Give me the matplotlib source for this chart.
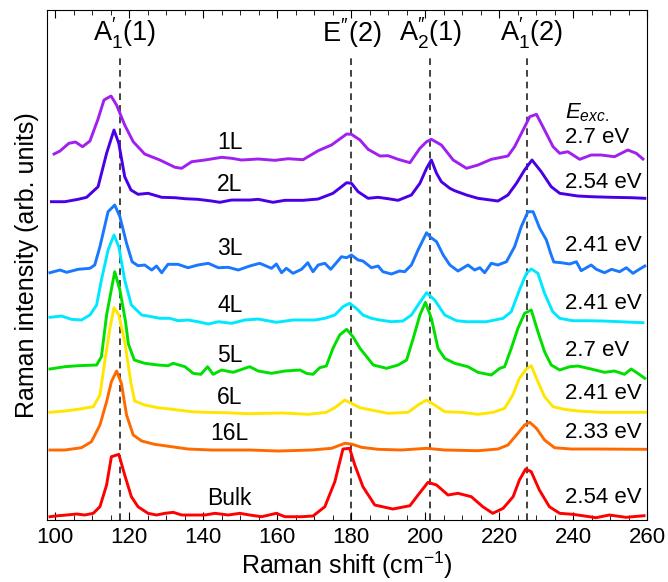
import matplotlib
matplotlib.use('Agg')
import matplotlib.pyplot as plt
from matplotlib.ticker import MultipleLocator

plt.rcParams['font.family'] = ['Liberation Sans', 'DejaVu Sans']
plt.rcParams['mathtext.fontset'] = 'custom'
plt.rcParams['mathtext.rm'] = 'Liberation Sans'
plt.rcParams['mathtext.it'] = 'Liberation Sans:italic'

# Raman spectra (intensity above each curve's baseline, arb. units)
shift_1L = [99.7, 101.3, 103.7, 105.5, 107.4, 109.4, 111.5, 113.2, 115.1, 116.6, 118.8, 121.1, 124.2,
            128.3, 132.4, 134.2, 136.9, 140.5, 145, 147.7, 150.4, 154.9, 159.4, 163, 167, 171.1, 174.7,
            178.8, 180.1, 182.4, 184.6, 187.8, 190, 192.7, 195.9, 198.6, 200.4, 201.7, 204.4, 207.6,
            211.2, 214.3, 217.9, 222.4, 224.2, 226.5, 228.3, 230.1, 232.3, 234.6, 236.4, 238.6, 241.8,
            244.9, 247.6, 251.2, 254.8, 257.1, 258.9]
int_1L = [6, 9, 16.7, 18, 13.3, 19, 40, 60, 64, 55, 35, 18.3, 6,
          0, -7.3, -8.3, -1.7, 0, 2.7, 1.7, 0, 1, -0.3, 1.3, 0.3, 9.3, 15,
          26, 25.7, 20, 10.7, 4, 4.3, 0.7, -2.7, 11.7, 18.3, 20.7, 15, 0,
          -8.3, -5, 0.7, 4, 13.3, 30, 43.3, 45.7, 30, 13.3, 6.7, 8.3, 0.7,
          5, 5, 3.3, 10, 6.7, 1]

shift_2L = [99, 102.6, 106.2, 108.5, 111.6, 113.9, 115.9, 117.2, 118.8, 120.5, 122.4, 125.1, 128.8,
            132.4, 135.1, 138.6, 142.3, 144.5, 147.7, 152.6, 154.9, 158.9, 162.1, 167, 171.1, 175.1,
            178.8, 180.1, 181.9, 184.6, 187.3, 190, 192.7, 196.3, 198.6, 200.4, 201.7, 203.1, 204.4,
            206.7, 208, 211.2, 214.3, 219.7, 222.4, 224.7, 226.9, 228.9, 231.4, 234.1, 236.4, 241.3,
            244.9, 250.4, 255.8, 259.4]
int_2L = [-1.7, -1.7, 0.7, 2.7, 13.3, 46.7, 70, 56.7, 23.3, 10, 5.7, 6.7, 2.7,
          2.3, 1.3, 0.7, -1, -2.3, 0, 0, 0.7, -2.3, -0.3, -0.3, 1, 6.7,
          17.3, 16.7, 8.3, 1.7, 2.7, 1.3, -0.3, 5, 16.7, 31.7, 40, 26.7, 18.3,
          11.7, 9.3, 5, 1.7, -1, 5, 16.7, 30, 40, 28.3, 13.3, 6.7, 4,
          3.3, 2.7, 2.3, 1.7]

shift_3L = [98.6, 101.3, 103.1, 106.2, 109.4, 110.7, 112.1, 114.3, 116.1, 117.5, 119.3, 120.8, 122.4,
            124.2, 126.1, 127.4, 128.8, 130.5, 133.2, 135.9, 138.6, 141.4, 144.1, 146.8, 149.5, 152.6,
            155.3, 158.5, 159.8, 161.2, 162.5, 164.3, 166.6, 168.3, 169.7, 171.1, 172.9, 174.5, 177.4,
            178.8, 180.1, 181.9, 183.2, 185.5, 187.3, 188.6, 190.9, 193.1, 194.5, 196.3, 198.1, 200.4,
            201.3, 203.1, 204.9, 206.7, 208.9, 211.6, 213.4, 214.8, 216.1, 217.9, 219.7, 222, 224.2,
            226, 227.8, 229.2, 231, 232.8, 234, 234.8, 236.8, 239.1, 240.9, 242.2, 244.9, 246.3, 248.5,
            250.4, 252.6, 254.4, 256.2, 257.6, 259.4]
int_3L = [-5.7, -3, -5.3, -2.3, -1.3, 2, 20.3, 55.3, 62, 50.3, 23.7, 5.3, 1.3,
          2, -3, 1, -5.7, 2.7, 2.7, -0.7, 2, 3.7, -0.7, -0.3, -3, 1,
          3.7, -1.3, 3, -5.7, -1.3, -6.3, -2.3, 4.3, -4.7, 2, 3.7, -2.3, 10.3,
          9.3, 12, 7, 6, -0.7, 1, -4.7, -7, -4, -4.7, 2, 17, 34.3,
          30.3, 25.3, 12, 2, -4, 2, -3, -0.7, -5.7, 3.7, 2, 5.3, 20.3,
          40.3, 55.3, 55.3, 38.7, 27, 13, 5, 4.3, 3, 5.3, -3.7, 2, -2.3, -5.7,
          -2.3, -4.7, -0.7, -6.3, -3, 1]

shift_4L = [98.6, 101.7, 104.4, 107.1, 109.4, 111.2, 112.5, 114.3, 115.9, 117.2, 118.8, 120.6, 123.4,
            126.1, 128.3, 131, 133.2, 135.9, 138.6, 141.4, 144.1, 147.7, 151.3, 154.9, 159.8, 164.3,
            170.2, 172.9, 175.6, 177.8, 179.6, 181.4, 183.2, 185.5, 187.7, 190.9, 194, 196.3, 198.1,
            200.4, 202.6, 205.3, 208.5, 211.2, 216.6, 221.1, 223.3, 225.5, 227.4, 228.7, 230.5, 232.3,
            234.5, 236.4, 239.9, 243.6, 248.1, 252.6, 258.9]
int_4L = [2.7, 4, 0.7, 0, 5, 15, 40, 70, 85, 73.3, 40, 15, 5,
          3.3, 1.7, 1.7, -0.7, 0, -1.7, -4, -1.7, -3.3, 0, 1, -2.3, 0,
          0, 1.7, 5, 13.3, 16.7, 11.7, 5, 1.7, 0, -1.7, -1, 5, 15,
          27.3, 20, 5, -0.7, -1.7, -1.7, 1.7, 8.3, 30, 46.7, 51, 46.7, 26.7,
          8.3, 1.7, -0.7, -0.7, -1, -1.7, -2.7]

shift_5L = [98.6, 102.6, 106.2, 111.2, 112.5, 113.9, 116.1, 117.5, 119, 119.8, 121.4, 124.2, 127.8,
            130.5, 131.9, 135.1, 137.3, 139.4, 141.2, 142.7, 145, 148.1, 152.6, 154.9, 158.5, 162.1,
            166.2, 167.9, 169.7, 171.5, 173.3, 175.1, 176.9, 178.8, 180.5, 182.4, 186, 189.6, 192.7,
            195, 196.8, 198.6, 200.1, 201.7, 203.5, 205.3, 208, 211.6, 214.3, 217.9, 220.2, 221.5,
            223.3, 225.1, 226.9, 228.7, 230.5, 232.3, 234.1, 236.4, 239.1, 241.3, 244.9, 248.5, 251.2,
            253.9, 255.7, 257.5, 259.4]
int_5L = [-3, -0.7, 0.3, 1, 9.3, 51, 94.3, 76, 45, 22, 6, 2.7, 1,
          0.3, 2.7, -0.7, -7.3, -8.3, -0.7, -8.3, -4, -6.3, -0.7, -5, -7.3, -5,
          -4, -7.3, -8.3, -1.7, 0, 17.7, 31, 36.7, 29.3, 17.7, 1, -2.3, 1,
          6, 27.7, 51, 63.7, 47.7, 17.7, 7.7, 2.7, -0.7, -6.3, -9, -2.3, -0.7,
          17.7, 37.7, 52.7, 56, 34.3, 14.3, 1, -4, -0.7, 0, -3, -6.3, -5,
          -8.3, -3, -7.3, -12.3]

shift_6L = [98.6, 102.6, 106.2, 110.3, 112.1, 113.4, 114.8, 115.9, 117.2, 118.8, 120.5, 121.5, 124.2,
            127.8, 131, 133.2, 136.9, 140.5, 145.9, 152.6, 156.7, 161.6, 168.4, 173.3, 175.6, 178.3,
            180.1, 182.4, 185.5, 190, 195.4, 198.1, 200.4, 202.6, 205.3, 209.8, 214.3, 218.4, 221.5,
            223.7, 225.5, 227.4, 228.7, 230.5, 232.3, 234.6, 237.7, 241.3, 247.6, 254, 259.8]
int_6L = [-0.3, 1, 2.7, 5.3, 17, 50.3, 83.7, 104.3, 97, 70.3, 28.7, 11, 7,
          4.3, 3, 2, 0.3, -0.3, -0.7, -1.7, -1.3, -1, -2.3, -0.3, 4.3, 12,
          8.7, 4.3, 2, -1.3, -0.3, 7, 12, 7, 0.3, -0.3, -2.3, -0.3, 3.7,
          17, 33.7, 43, 46.3, 30.3, 15.3, 5.3, 2.7, 1, -0.3, -0.3, -0.3]

shift_16L = [98.6, 102.6, 107.1, 109.8, 112.1, 113.9, 115.2, 116.6, 117.9, 119.3, 121.1, 123.4, 126.9,
             131.5, 135.9, 142.3, 152.6, 160.3, 169.3, 174.7, 178.3, 180.1, 182.8, 187.3, 193.6, 200.4,
             205.3, 214.3, 219.7, 222.4, 224.7, 226.9, 228.3, 230.1, 232.3, 235, 239.5, 245.8, 259.8]
int_16L = [0, 0, 2.3, 8.3, 25, 48.3, 68.3, 79, 66.7, 35, 15, 9, 5.7,
           3.3, 1, 0, 0, -1, 0, 1.7, 6.7, 6, 2.7, 0.7, 0, 1.7,
           0, -0.7, 1, 5, 15, 25, 27.7, 21.7, 10, 2.3, 1, 1, 0.7]

shift_bulk = [98.6, 100.8, 103.1, 105.8, 108, 110.3, 112.1, 113.9, 115.2, 117.2, 118.8, 120.6, 122.4,
              125.1, 127.4, 129.7, 131.9, 134.2, 137.8, 140.5, 143.2, 146.8, 149.9, 152.6, 155.8, 159.8,
              162.1, 166.6, 169.7, 172.9, 175.6, 177.8, 179.6, 181, 183.2, 186.4, 191.3, 195.9, 198.1,
              200.8, 203.1, 206.2, 208.9, 212.5, 215.6, 218.3, 221.1, 223.8, 225.5, 227.2, 228.7, 230.9,
              233.6, 236.4, 239.9, 242.6, 246.2, 249.8, 254.3, 259.2]
int_bulk = [-1.7, -0.7, 0, 1, 0, 1.7, 8.3, 30, 58.3, 60.7, 40, 18.3, 8.3,
            1.7, 0, 1.7, 2.7, 0, 0, 0, 1.7, 0, 1.7, 0, -1.7, 1.7,
            -1.7, -1.7, -1, 8.3, 33.3, 66, 66.7, 50, 28.3, 10, 6, 9.3, 20,
            32.7, 30, 20, 21.7, 18.3, 8.3, 1.7, 6.7, 18.3, 35, 46, 43.3, 25,
            8.3, 1.7, 0.7, -0.7, -2.7, 0, -2.3, -0.7]

layers = ['1L', '2L', '3L', '4L', '5L', '6L', '16L', 'Bulk']
energies = ['2.7 eV', '2.54 eV', '2.41 eV', '2.41 eV', '2.7 eV', '2.41 eV', '2.33 eV', '2.54 eV']
shifts = [shift_1L, shift_2L, shift_3L, shift_4L, shift_5L, shift_6L, shift_16L, shift_bulk]
intensities = [int_1L, int_2L, int_3L, int_4L, int_5L, int_6L, int_16L, int_bulk]

modes = [r'$\mathregular{A_1^{\prime}(1)}$', r'$\mathregular{E^{\prime\prime}(2)}$',
         r'$\mathregular{A_2^{\prime\prime}(1)}$', r'$\mathregular{A_1^{\prime}(2)}$']
mode_pos = [117.4, 180.0, 201.2, 227.6]

# styling / stacking
colors = ['#a020f0', '#4a00e6', '#1a78ff', '#00e8ff', '#00e000', '#ffe600', '#ff6a00', '#ff0000']
offsets = [360, 320, 253, 200, 154, 108, 70, 5]
layer_y = [378, 336, 272, 215, 165, 123, 87, 22]
energy_y = [383, 338, 275, 217, 170, 127, 88, 23]
mode_label_x = [118.9, 180.2, 201.4, 228.7]

fig = plt.figure(figsize=(6.68, 5.82), dpi=100)
ax = fig.add_axes([0.0704, 0.1065, 0.8982, 0.8763])

for x, y, off, c in zip(shifts, intensities, offsets, colors):
    ax.plot(x, [v + off for v in y], color=c, lw=2.1)

for xp in mode_pos:
    ax.plot([xp, xp], [0, 463], ls=(0, (4, 3)), color='#222222', lw=1.2, zorder=0)

for lab, xl in zip(modes, mode_label_x):
    ax.text(xl, 487, lab, ha='center', va='center', fontsize=19.5)

for lab, yl in zip(layers, layer_y):
    ax.text(147.2, yl, lab, ha='center', va='center', fontsize=16.5)

ax.text(237.8, 407, r'$\mathit{E}_{\mathit{exc.}}$', ha='left', va='center', fontsize=16)
for lab, yl in zip(energies, energy_y):
    ax.text(237.8, yl, lab, ha='left', va='center', fontsize=16)

ax.set_xlim(97.8, 260)
ax.set_ylim(0, 510)
ax.xaxis.set_major_locator(MultipleLocator(20))
ax.xaxis.set_minor_locator(MultipleLocator(5))
ax.tick_params(axis='x', which='both', direction='in', top=True, labelsize=16, pad=5)
ax.tick_params(axis='x', which='major', length=6)
ax.tick_params(axis='x', which='minor', length=3.5)
ax.set_yticks([])
ax.set_xlabel('Raman shift (cm$^{-1}$)', fontsize=18, labelpad=1)
ax.set_ylabel('Raman intensity (arb. units)', fontsize=18, labelpad=6)

fig.savefig('out.png', dpi=100)
